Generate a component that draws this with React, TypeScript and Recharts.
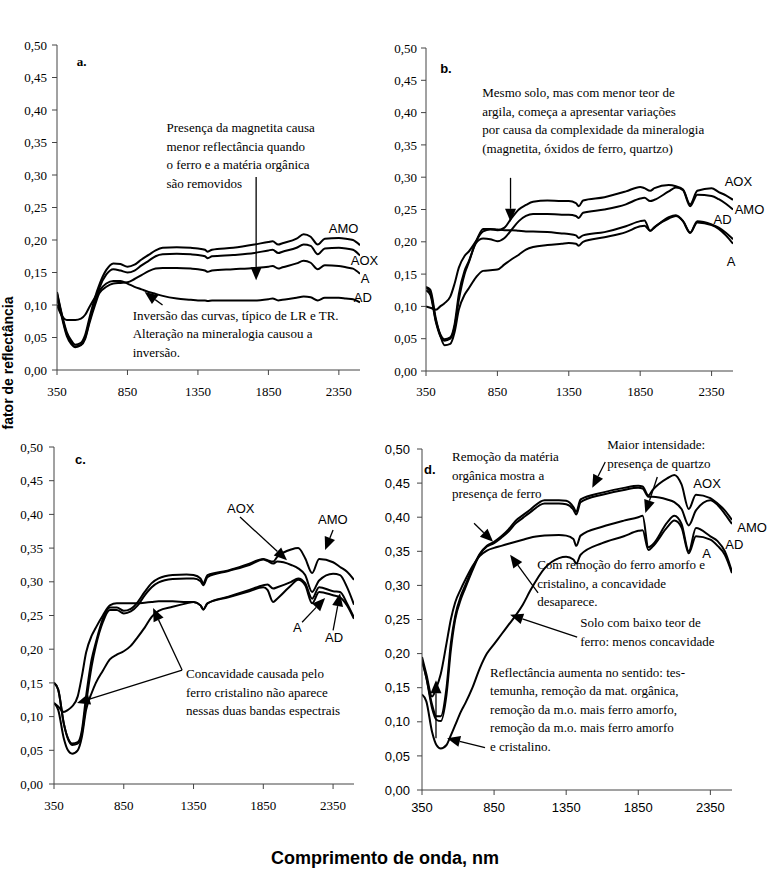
import { LineChart, Line, XAxis, YAxis, ReferenceLine, ReferenceDot } from 'recharts';

// wavelengths (nm) sampled along every curve
const WL = [350, 380, 420, 450, 480, 520, 550, 580, 620, 650, 700, 750, 800, 850, 900, 950, 1000, 1050, 1100, 1200,
  1300, 1350, 1400, 1420, 1450, 1600, 1750, 1850, 1880, 1920, 1950, 2050, 2100, 2150, 2200, 2250, 2350, 2400, 2450, 2500];

const X_TICKS = [350, 850, 1350, 1850, 2350];
const Y_TICKS = [0, 0.05, 0.1, 0.15, 0.2, 0.25, 0.3, 0.35, 0.4, 0.45, 0.5];
const SERIES = ['AMO', 'AOX', 'A', 'AD'];

// panel a
const aAMO = [0.12, 0.09, 0.058, 0.046, 0.039, 0.042, 0.054, 0.08, 0.112, 0.131, 0.154, 0.164, 0.163, 0.159, 0.162, 0.17, 0.177, 0.184, 0.188, 0.189,
  0.188, 0.187, 0.185, 0.182, 0.185, 0.188, 0.193, 0.197, 0.198, 0.193, 0.195, 0.202, 0.209, 0.205, 0.193, 0.202, 0.203, 0.202, 0.2, 0.192];
const aAOX = [0.118, 0.088, 0.055, 0.043, 0.036, 0.039, 0.05, 0.075, 0.105, 0.126, 0.147, 0.155, 0.153, 0.15, 0.153, 0.161, 0.168, 0.175, 0.178, 0.179,
  0.178, 0.177, 0.175, 0.172, 0.175, 0.177, 0.18, 0.184, 0.185, 0.18, 0.182, 0.188, 0.193, 0.191, 0.178, 0.187, 0.188, 0.187, 0.185, 0.176];
const aA = [0.11, 0.085, 0.052, 0.04, 0.035, 0.038, 0.048, 0.072, 0.1, 0.118, 0.128, 0.133, 0.134, 0.135, 0.14, 0.146, 0.152, 0.156, 0.157, 0.157,
  0.156, 0.155, 0.153, 0.151, 0.153, 0.155, 0.157, 0.159, 0.16, 0.156, 0.158, 0.164, 0.168, 0.165, 0.155, 0.161, 0.16, 0.158, 0.156, 0.148];
const aAD = [0.1, 0.085, 0.077, 0.077, 0.077, 0.079, 0.085, 0.097, 0.112, 0.122, 0.133, 0.137, 0.137, 0.133, 0.128, 0.124, 0.12, 0.117, 0.114, 0.11,
  0.108, 0.107, 0.107, 0.106, 0.107, 0.107, 0.107, 0.109, 0.11, 0.107, 0.108, 0.111, 0.113, 0.112, 0.107, 0.111, 0.111, 0.11, 0.109, 0.104];

// panel b
const bAMO = [0.125, 0.118, 0.075, 0.054, 0.047, 0.05, 0.068, 0.11, 0.15, 0.168, 0.198, 0.205, 0.204, 0.201, 0.206, 0.219, 0.232, 0.24, 0.243, 0.243,
  0.242, 0.242, 0.24, 0.237, 0.245, 0.25, 0.258, 0.267, 0.268, 0.263, 0.265, 0.278, 0.284, 0.28, 0.255, 0.273, 0.271, 0.266, 0.259, 0.25];
const bAOX = [0.129, 0.122, 0.077, 0.057, 0.049, 0.052, 0.072, 0.119, 0.155, 0.17, 0.2, 0.216, 0.219, 0.218, 0.222, 0.237, 0.25, 0.257, 0.262, 0.264,
  0.263, 0.263, 0.26, 0.255, 0.264, 0.269, 0.278, 0.285, 0.283, 0.279, 0.283, 0.288, 0.286, 0.281, 0.258, 0.279, 0.283, 0.277, 0.272, 0.265];
const bA = [0.13, 0.126, 0.08, 0.055, 0.04, 0.042, 0.06, 0.095, 0.118, 0.128, 0.145, 0.155, 0.156, 0.157, 0.165, 0.173, 0.18, 0.188, 0.192, 0.195,
  0.197, 0.198, 0.197, 0.194, 0.2, 0.207, 0.215, 0.224, 0.225, 0.217, 0.223, 0.236, 0.24, 0.232, 0.214, 0.23, 0.226, 0.22, 0.21, 0.197];
const bAD = [0.1, 0.098, 0.095, 0.1, 0.105, 0.115, 0.135, 0.16, 0.178, 0.185, 0.201, 0.22, 0.22, 0.219, 0.218, 0.218, 0.217, 0.216, 0.216, 0.215,
  0.213, 0.212, 0.21, 0.206, 0.21, 0.215, 0.224, 0.232, 0.233, 0.217, 0.222, 0.238, 0.241, 0.232, 0.214, 0.232, 0.227, 0.222, 0.214, 0.204];

// panel c
const cAMO = [0.15, 0.14, 0.09, 0.068, 0.06, 0.062, 0.08, 0.13, 0.185, 0.21, 0.245, 0.262, 0.262, 0.257, 0.26, 0.27, 0.285, 0.298, 0.305, 0.31,
  0.311, 0.31, 0.305, 0.298, 0.31, 0.317, 0.327, 0.334, 0.332, 0.33, 0.337, 0.348, 0.35, 0.335, 0.313, 0.334, 0.329, 0.322, 0.315, 0.303];
const cAOX = [0.15, 0.14, 0.09, 0.067, 0.058, 0.06, 0.075, 0.12, 0.175, 0.205, 0.24, 0.258, 0.258, 0.253, 0.256, 0.265, 0.28, 0.292, 0.299, 0.304,
  0.305, 0.305, 0.301, 0.295, 0.307, 0.316, 0.325, 0.333, 0.331, 0.327, 0.33, 0.325, 0.32, 0.31, 0.285, 0.302, 0.312, 0.31, 0.292, 0.266];
const cA = [0.12, 0.11, 0.068, 0.05, 0.045, 0.05, 0.07, 0.11, 0.135, 0.15, 0.168, 0.185, 0.192, 0.197, 0.205, 0.218, 0.232, 0.248, 0.257, 0.263,
  0.268, 0.27, 0.265, 0.259, 0.268, 0.277, 0.286, 0.292, 0.288, 0.27, 0.275, 0.295, 0.303, 0.295, 0.268, 0.285, 0.28, 0.277, 0.265, 0.245];
const cAD = [0.12, 0.115, 0.107, 0.11, 0.115, 0.13, 0.16, 0.195, 0.22, 0.232, 0.25, 0.265, 0.268, 0.268, 0.268, 0.268, 0.269, 0.27, 0.271, 0.271,
  0.27, 0.27, 0.265, 0.259, 0.268, 0.278, 0.288, 0.295, 0.296, 0.29, 0.292, 0.3, 0.305, 0.298, 0.275, 0.292, 0.286, 0.285, 0.268, 0.247];

// panel d
const dAMO = [0.19, 0.165, 0.12, 0.103, 0.101, 0.14, 0.205, 0.25, 0.28, 0.296, 0.322, 0.345, 0.357, 0.362, 0.37, 0.379, 0.391, 0.399, 0.407, 0.42,
  0.42, 0.419, 0.411, 0.404, 0.422, 0.433, 0.44, 0.443, 0.442, 0.43, 0.43, 0.426, 0.422, 0.412, 0.388, 0.41, 0.425, 0.418, 0.405, 0.39];
const dAOX = [0.19, 0.165, 0.125, 0.108, 0.108, 0.15, 0.215, 0.255, 0.285, 0.3, 0.325, 0.346, 0.358, 0.364, 0.372, 0.382, 0.395, 0.403, 0.411, 0.425,
  0.425, 0.424, 0.415, 0.408, 0.426, 0.436, 0.443, 0.446, 0.445, 0.432, 0.44, 0.457, 0.462, 0.448, 0.412, 0.433, 0.428, 0.42, 0.41, 0.396];
const dA = [0.14, 0.13, 0.085, 0.066, 0.061, 0.066, 0.08, 0.095, 0.115, 0.127, 0.15, 0.178, 0.2, 0.214, 0.228, 0.242, 0.256, 0.272, 0.292, 0.325,
  0.34, 0.342, 0.338, 0.332, 0.345, 0.362, 0.372, 0.38, 0.381, 0.352, 0.357, 0.385, 0.395, 0.385, 0.347, 0.372, 0.367, 0.358, 0.345, 0.318];
const dAD = [0.195, 0.17, 0.137, 0.15, 0.17, 0.215, 0.25, 0.275, 0.295, 0.308, 0.328, 0.343, 0.351, 0.355, 0.358, 0.361, 0.364, 0.367, 0.37, 0.373,
  0.374, 0.373, 0.368, 0.358, 0.373, 0.386, 0.395, 0.4, 0.402, 0.356, 0.36, 0.392, 0.402, 0.39, 0.35, 0.384, 0.372, 0.365, 0.35, 0.32];

const SERIF = '"Liberation Serif", "Times New Roman", serif';
const SANS = '"Liberation Sans", Arial, sans-serif';

const fmt = (v: number) => v.toFixed(2).replace('.', ',');

const arrowShape = (p: any) => {
  const { x1, y1, x2, y2 } = p;
  const ang = Math.atan2(y2 - y1, x2 - x1);
  const c = Math.cos(ang);
  const s = Math.sin(ang);
  const L = 13;
  const W = 5.5;
  const bx = x2 - L * c;
  const by = y2 - L * s;
  const pts = `${x2},${y2} ${bx - W * s},${by + W * c} ${bx + W * s},${by - W * c}`;
  return (
    <g>
      <line x1={x1} y1={y1} x2={bx} y2={by} stroke="#000" strokeWidth={1.3} />
      <polygon points={pts} fill="#000" />
    </g>
  );
};

const panels = [
  {
    key: 'a',
    box: { l: 57, t: 45, r: 360, b: 370 },
    data: { AMO: aAMO, AOX: aAOX, A: aA, AD: aAD },
    tickFamily: SERIF,
    xMargin: 12,
    yMargin: 5,
    title: { x: 491, y: 0.468, text: 'a.', family: SERIF },
    labels: [
      { x: 2279, y: 0.211, text: 'AMO' },
      { x: 2435, y: 0.162, text: 'AOX' },
      { x: 2505, y: 0.134, text: 'A' },
      { x: 2456, y: 0.105, text: 'AD' },
    ],
    notes: [
      { x: 1127, y: 0.366, lines: ['Presença da magnetita causa', 'menor reflectância quando', 'o ferro e a matéria orgânica', 'são removidos'] },
      { x: 887, y: 0.077, lines: ['Inversão das curvas, típico de LR e TR.', 'Alteração na mineralogia causou a', 'inversão.'] },
    ],
    arrows: [
      [1763, 0.297, 1763, 0.138],
      [1099, 0.1, 972, 0.12],
    ],
  },
  {
    key: 'b',
    box: { l: 426, t: 48, r: 733, b: 371 },
    data: { AMO: bAMO, AOX: bAOX, A: bA, AD: bAD },
    tickFamily: SERIF,
    xMargin: 11,
    yMargin: 4,
    title: { x: 449, y: 0.461, text: 'b.', family: SANS },
    labels: [
      { x: 2442, y: 0.286, text: 'AOX' },
      { x: 2512, y: 0.243, text: 'AMO' },
      { x: 2364, y: 0.228, text: 'AD' },
      { x: 2456, y: 0.163, text: 'A' },
    ],
    notes: [
      { x: 744, y: 0.424, lines: ['Mesmo solo, mas com menor teor de', 'argila, começa a apresentar variações', 'por causa da complexidade da mineralogia', '(magnetita, óxidos de ferro, quartzo)'] },
    ],
    arrows: [[942, 0.299, 942, 0.231]],
  },
  {
    key: 'c',
    box: { l: 54, t: 447, r: 354, b: 784 },
    data: { AMO: cAMO, AOX: cAOX, A: cA, AD: cAD },
    tickFamily: SERIF,
    xMargin: 12,
    yMargin: 6,
    title: { x: 500, y: 0.475, text: 'c.', family: SANS },
    labels: [
      { x: 1590, y: 0.402, text: 'AOX' },
      { x: 2242, y: 0.386, text: 'AMO' },
      { x: 2063, y: 0.226, text: 'A' },
      { x: 2293, y: 0.211, text: 'AD' },
    ],
    notes: [
      { x: 1296, y: 0.157, lines: ['Concavidade causada pelo', 'ferro cristalino não aparece', 'nessas duas bandas espectrais'] },
    ],
    arrows: [
      [1683, 0.396, 2020, 0.332],
      [2350, 0.377, 2293, 0.347],
      [2128, 0.24, 2293, 0.276],
      [2350, 0.228, 2400, 0.283],
      [1268, 0.169, 515, 0.12],
      [1268, 0.169, 1060, 0.261],
    ],
  },
  {
    key: 'd',
    box: { l: 422, t: 449, r: 732, b: 790 },
    data: { AMO: dAMO, AOX: dAOX, A: dA, AD: dAD },
    tickFamily: SANS,
    xMargin: 8,
    yMargin: 7,
    title: { x: 364, y: 0.463, text: 'd.', family: SANS },
    labels: [
      { x: 2232, y: 0.443, text: 'AOX' },
      { x: 2537, y: 0.378, text: 'AMO' },
      { x: 2454, y: 0.353, text: 'AD' },
      { x: 2294, y: 0.34, text: 'A' },
    ],
    notes: [
      { x: 558, y: 0.482, lines: ['Remoção da matéria', 'orgânica mostra a', 'presença de ferro'] },
      { x: 1635, y: 0.5, lines: ['Maior intensidade:', 'presença de quartzo'] },
      { x: 1149, y: 0.324, lines: ['Com remoção do ferro amorfo e', 'cristalino, a concavidade', 'desaparece.'] },
      { x: 1447, y: 0.239, lines: ['Solo com baixo teor de', 'ferro: menos concavidade'] },
      { x: 822, y: 0.166, lines: ['Reflectância aumenta no sentido: tes-', 'temunha, remoção da mat. orgânica,', 'remoção da m.o. mais ferro amorfo,', 'remoção da m.o. mais ferro amorfo', 'e cristalino.'] },
    ],
    arrows: [
      [711, 0.391, 843, 0.364],
      [1621, 0.481, 1531, 0.443],
      [1982, 0.459, 1899, 0.406],
      [1155, 0.289, 961, 0.345],
      [1426, 0.224, 961, 0.257],
      [447, 0.076, 447, 0.161],
      [787, 0.062, 524, 0.076],
    ],
  },
];

const PAD_L = 50;
const PAD_T = 30;
const PAD_R = 45;
const PAD_B = 45;

function Panel({ cfg }: { cfg: any }) {
  const { box, data, tickFamily } = cfg;
  const rows = WL.map((w, i) => {
    const row: any = { wl: w };
    SERIES.forEach((s) => (row[s] = data[s][i]));
    return row;
  });
  const width = box.r - box.l + PAD_L + PAD_R;
  const height = box.b - box.t + PAD_T + PAD_B;
  const tick = { fill: '#000', fontFamily: tickFamily, fontSize: 13 };

  return (
    <div style={{ position: 'absolute', left: box.l - PAD_L, top: box.t - PAD_T }}>
      <LineChart width={width} height={height} data={rows} margin={{ top: PAD_T, right: PAD_R, left: 0, bottom: 0 }}>
        <XAxis
          dataKey="wl"
          type="number"
          domain={[350, 2500]}
          ticks={X_TICKS}
          allowDataOverflow
          height={PAD_B}
          tickSize={5}
          tickMargin={cfg.xMargin}
          stroke="#444"
          tick={tick}
        />
        <YAxis
          type="number"
          domain={[0, 0.5]}
          ticks={Y_TICKS}
          width={PAD_L}
          tickSize={5}
          tickMargin={cfg.yMargin}
          tickFormatter={fmt}
          stroke="#444"
          tick={tick}
        />
        {SERIES.map((s) => (
          <Line key={s} dataKey={s} type="monotone" stroke="#000" strokeWidth={2} dot={false} isAnimationActive={false} />
        ))}
        {cfg.arrows.map((a: number[], i: number) => (
          <ReferenceLine
            key={'ar' + i}
            segment={[{ x: a[0], y: a[1] }, { x: a[2], y: a[3] }]}
            ifOverflow="visible"
            shape={arrowShape}
          />
        ))}
        {cfg.notes.map((n: any, i: number) => (
          <ReferenceDot
            key={'n' + i}
            x={n.x}
            y={n.y}
            r={0}
            ifOverflow="visible"
            shape={(p: any) => (
              <text x={p.cx} y={p.cy} fontFamily={SERIF} fontSize={13} fill="#000">
                {n.lines.map((ln: string, j: number) => (
                  <tspan key={j} x={p.cx} dy={j === 0 ? 0 : 18.5}>
                    {ln}
                  </tspan>
                ))}
              </text>
            )}
          />
        ))}
        {cfg.labels.map((l: any) => (
          <ReferenceDot
            key={'l' + l.text}
            x={l.x}
            y={l.y}
            r={0}
            ifOverflow="visible"
            shape={(p: any) => (
              <text x={p.cx} y={p.cy} fontFamily={SANS} fontSize={13} fill="#000">
                {l.text}
              </text>
            )}
          />
        ))}
        <ReferenceDot
          x={cfg.title.x}
          y={cfg.title.y}
          r={0}
          ifOverflow="visible"
          shape={(p: any) => (
            <text x={p.cx} y={p.cy} fontFamily={cfg.title.family} fontWeight="bold" fontSize={13} fill="#000">
              {cfg.title.text}
            </text>
          )}
        />
      </LineChart>
    </div>
  );
}

export default function App() {
  return (
    <div style={{ position: 'absolute', left: 0, top: 0, width: 771, height: 876, background: '#fff', overflow: 'hidden' }}>
      <svg width={771} height={876} style={{ position: 'absolute', left: 0, top: 0 }}>
        <text
          transform="translate(13,363) rotate(-90)"
          textAnchor="middle"
          fontFamily={SANS}
          fontWeight="bold"
          fontSize={14}
          fill="#000"
        >
          fator de reflectância
        </text>
        <text x={385} y={864} textAnchor="middle" fontFamily={SANS} fontWeight="bold" fontSize={18} fill="#000">
          Comprimento de onda, nm
        </text>
      </svg>
      {panels.map((p) => (
        <Panel key={p.key} cfg={p} />
      ))}
    </div>
  );
}
